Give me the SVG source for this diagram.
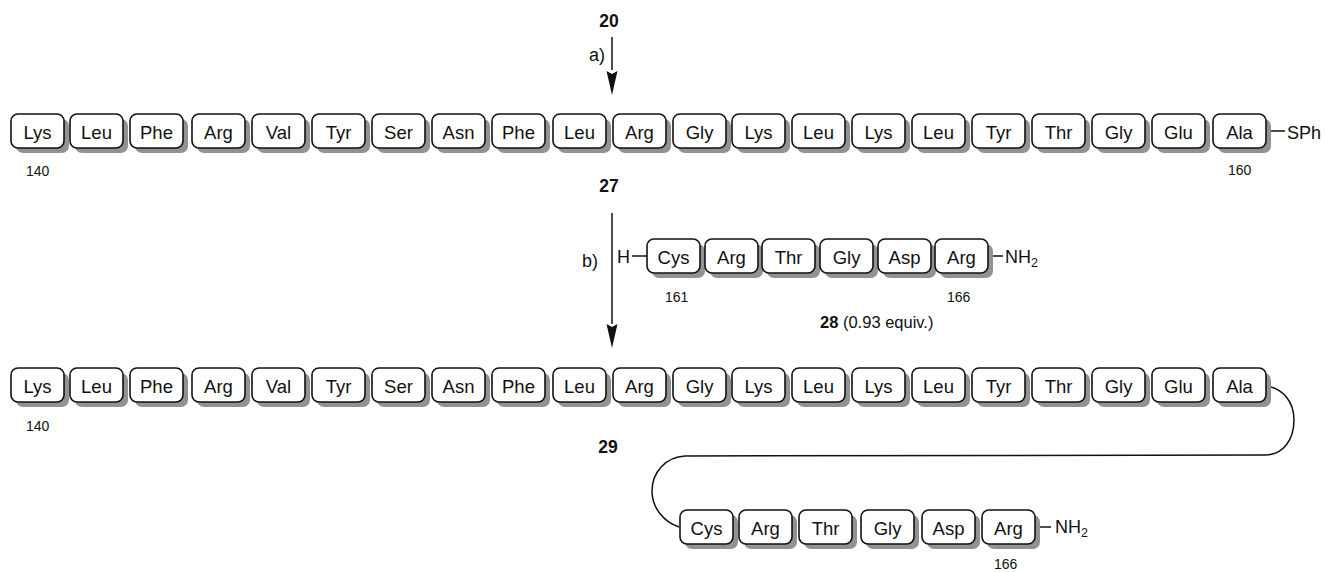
<svg xmlns="http://www.w3.org/2000/svg" xmlns:xlink="http://www.w3.org/1999/xlink" width="1325" height="572" viewBox="0 0 1325 572">
<style>
text{font-family:"Liberation Sans",Arial,sans-serif;fill:#111}
.aa{font-size:18.5px;text-anchor:middle}
.num{font-size:14px}
.lbl{font-size:18px}
.bold{font-weight:bold;font-size:17.5px;text-anchor:middle}
.sm{font-size:16.5px}
.ln{stroke:#111;stroke-width:1.5;fill:none}
</style>
<defs>
<g id="box">
<rect x="5" y="5" width="53" height="34" rx="7" fill="#929292"/>
<rect x="0" y="0" width="53" height="34" rx="7" fill="#fff" stroke="#111" stroke-width="1.6"/>
</g>
</defs>
<rect width="1325" height="572" fill="#fff"/>

<g id="connectors">
<line class="ln" x1="612" y1="37" x2="612" y2="70"/>
<path d="M606.5,71 L612,74 L617.5,71 L612,95 Z" fill="#111"/>
<line class="ln" x1="612" y1="213" x2="612" y2="324"/>
<path d="M606.5,324 L612,327 L617.5,324 L612,348 Z" fill="#111"/>
<line class="ln" x1="1271" y1="131" x2="1285" y2="131"/>
<line class="ln" x1="632" y1="256" x2="647" y2="256"/>
<line class="ln" x1="989" y1="256" x2="1003" y2="256"/>
<line class="ln" x1="1036" y1="527" x2="1051" y2="527"/>
<path class="ln" d="M1266,386 C1283,388 1294,402 1294,420 C1294,440 1283,455 1265,455 L685,456 C666,457 652,472 652,491 C652,508 664,522 679,527"/>
</g>

<g id="labels">
<text class="bold" x="609" y="27">20</text>
<text class="lbl" x="589" y="61">a)</text>
<text class="bold" x="609" y="192">27</text>
<text class="lbl" x="582" y="267">b)</text>
<text class="bold" x="608" y="453">29</text>
<text class="lbl" x="1287" y="139">SPh</text>
<text class="num" x="26" y="176">140</text>
<text class="num" x="1228" y="175">160</text>
<text class="num" x="26" y="431">140</text>
<text class="lbl" x="617" y="263">H</text>
<text class="lbl" x="1005" y="263">NH<tspan font-size="12.5px" dy="4">2</tspan></text>
<text class="num" x="665" y="302">161</text>
<text class="num" x="947" y="302">166</text>
<text class="sm" x="820" y="328"><tspan font-weight="bold">28</tspan> (0.93 equiv.)</text>
<text class="lbl" x="1055" y="533">NH<tspan font-size="12.5px" dy="4">2</tspan></text>
<text class="num" x="994" y="569">166</text>
</g>

<g id="chain27">
<g id="c27-1" transform="translate(11,114)"><use xlink:href="#box"/><text class="aa" x="26.5" y="24.5">Lys</text></g>
<g id="c27-2" transform="translate(70,114)"><use xlink:href="#box"/><text class="aa" x="26.5" y="24.5">Leu</text></g>
<g id="c27-3" transform="translate(130,114)"><use xlink:href="#box"/><text class="aa" x="26.5" y="24.5">Phe</text></g>
<g id="c27-4" transform="translate(192,114)"><use xlink:href="#box"/><text class="aa" x="26.5" y="24.5">Arg</text></g>
<g id="c27-5" transform="translate(252,114)"><use xlink:href="#box"/><text class="aa" x="26.5" y="24.5">Val</text></g>
<g id="c27-6" transform="translate(312,114)"><use xlink:href="#box"/><text class="aa" x="26.5" y="24.5">Tyr</text></g>
<g id="c27-7" transform="translate(372,114)"><use xlink:href="#box"/><text class="aa" x="26.5" y="24.5">Ser</text></g>
<g id="c27-8" transform="translate(432,114)"><use xlink:href="#box"/><text class="aa" x="26.5" y="24.5">Asn</text></g>
<g id="c27-9" transform="translate(492,114)"><use xlink:href="#box"/><text class="aa" x="26.5" y="24.5">Phe</text></g>
<g id="c27-10" transform="translate(553,114)"><use xlink:href="#box"/><text class="aa" x="26.5" y="24.5">Leu</text></g>
<g id="c27-11" transform="translate(613,114)"><use xlink:href="#box"/><text class="aa" x="26.5" y="24.5">Arg</text></g>
<g id="c27-12" transform="translate(673,114)"><use xlink:href="#box"/><text class="aa" x="26.5" y="24.5">Gly</text></g>
<g id="c27-13" transform="translate(732,114)"><use xlink:href="#box"/><text class="aa" x="26.5" y="24.5">Lys</text></g>
<g id="c27-14" transform="translate(792,114)"><use xlink:href="#box"/><text class="aa" x="26.5" y="24.5">Leu</text></g>
<g id="c27-15" transform="translate(852,114)"><use xlink:href="#box"/><text class="aa" x="26.5" y="24.5">Lys</text></g>
<g id="c27-16" transform="translate(912,114)"><use xlink:href="#box"/><text class="aa" x="26.5" y="24.5">Leu</text></g>
<g id="c27-17" transform="translate(972,114)"><use xlink:href="#box"/><text class="aa" x="26.5" y="24.5">Tyr</text></g>
<g id="c27-18" transform="translate(1032,114)"><use xlink:href="#box"/><text class="aa" x="26.5" y="24.5">Thr</text></g>
<g id="c27-19" transform="translate(1092,114)"><use xlink:href="#box"/><text class="aa" x="26.5" y="24.5">Gly</text></g>
<g id="c27-20" transform="translate(1152,114)"><use xlink:href="#box"/><text class="aa" x="26.5" y="24.5">Glu</text></g>
<g id="c27-21" transform="translate(1213,114)"><use xlink:href="#box"/><text class="aa" x="26.5" y="24.5">Ala</text></g>
</g>

<g id="chain28">
<g id="c28-1" transform="translate(647,239)"><use xlink:href="#box"/><text class="aa" x="26.5" y="24.5">Cys</text></g>
<g id="c28-2" transform="translate(705,239)"><use xlink:href="#box"/><text class="aa" x="26.5" y="24.5">Arg</text></g>
<g id="c28-3" transform="translate(762,239)"><use xlink:href="#box"/><text class="aa" x="26.5" y="24.5">Thr</text></g>
<g id="c28-4" transform="translate(820,239)"><use xlink:href="#box"/><text class="aa" x="26.5" y="24.5">Gly</text></g>
<g id="c28-5" transform="translate(878,239)"><use xlink:href="#box"/><text class="aa" x="26.5" y="24.5">Asp</text></g>
<g id="c28-6" transform="translate(935,239)"><use xlink:href="#box"/><text class="aa" x="26.5" y="24.5">Arg</text></g>
</g>

<g id="chain29">
<g id="c29-1" transform="translate(11,368)"><use xlink:href="#box"/><text class="aa" x="26.5" y="24.5">Lys</text></g>
<g id="c29-2" transform="translate(70,368)"><use xlink:href="#box"/><text class="aa" x="26.5" y="24.5">Leu</text></g>
<g id="c29-3" transform="translate(130,368)"><use xlink:href="#box"/><text class="aa" x="26.5" y="24.5">Phe</text></g>
<g id="c29-4" transform="translate(192,368)"><use xlink:href="#box"/><text class="aa" x="26.5" y="24.5">Arg</text></g>
<g id="c29-5" transform="translate(252,368)"><use xlink:href="#box"/><text class="aa" x="26.5" y="24.5">Val</text></g>
<g id="c29-6" transform="translate(312,368)"><use xlink:href="#box"/><text class="aa" x="26.5" y="24.5">Tyr</text></g>
<g id="c29-7" transform="translate(372,368)"><use xlink:href="#box"/><text class="aa" x="26.5" y="24.5">Ser</text></g>
<g id="c29-8" transform="translate(432,368)"><use xlink:href="#box"/><text class="aa" x="26.5" y="24.5">Asn</text></g>
<g id="c29-9" transform="translate(492,368)"><use xlink:href="#box"/><text class="aa" x="26.5" y="24.5">Phe</text></g>
<g id="c29-10" transform="translate(553,368)"><use xlink:href="#box"/><text class="aa" x="26.5" y="24.5">Leu</text></g>
<g id="c29-11" transform="translate(613,368)"><use xlink:href="#box"/><text class="aa" x="26.5" y="24.5">Arg</text></g>
<g id="c29-12" transform="translate(673,368)"><use xlink:href="#box"/><text class="aa" x="26.5" y="24.5">Gly</text></g>
<g id="c29-13" transform="translate(732,368)"><use xlink:href="#box"/><text class="aa" x="26.5" y="24.5">Lys</text></g>
<g id="c29-14" transform="translate(792,368)"><use xlink:href="#box"/><text class="aa" x="26.5" y="24.5">Leu</text></g>
<g id="c29-15" transform="translate(852,368)"><use xlink:href="#box"/><text class="aa" x="26.5" y="24.5">Lys</text></g>
<g id="c29-16" transform="translate(912,368)"><use xlink:href="#box"/><text class="aa" x="26.5" y="24.5">Leu</text></g>
<g id="c29-17" transform="translate(972,368)"><use xlink:href="#box"/><text class="aa" x="26.5" y="24.5">Tyr</text></g>
<g id="c29-18" transform="translate(1032,368)"><use xlink:href="#box"/><text class="aa" x="26.5" y="24.5">Thr</text></g>
<g id="c29-19" transform="translate(1092,368)"><use xlink:href="#box"/><text class="aa" x="26.5" y="24.5">Gly</text></g>
<g id="c29-20" transform="translate(1152,368)"><use xlink:href="#box"/><text class="aa" x="26.5" y="24.5">Glu</text></g>
<g id="c29-21" transform="translate(1213,368)"><use xlink:href="#box"/><text class="aa" x="26.5" y="24.5">Ala</text></g>
<g id="c29-22" transform="translate(680,510)"><use xlink:href="#box"/><text class="aa" x="26.5" y="24.5">Cys</text></g>
<g id="c29-23" transform="translate(739,510)"><use xlink:href="#box"/><text class="aa" x="26.5" y="24.5">Arg</text></g>
<g id="c29-24" transform="translate(799,510)"><use xlink:href="#box"/><text class="aa" x="26.5" y="24.5">Thr</text></g>
<g id="c29-25" transform="translate(861,510)"><use xlink:href="#box"/><text class="aa" x="26.5" y="24.5">Gly</text></g>
<g id="c29-26" transform="translate(922,510)"><use xlink:href="#box"/><text class="aa" x="26.5" y="24.5">Asp</text></g>
<g id="c29-27" transform="translate(982,510)"><use xlink:href="#box"/><text class="aa" x="26.5" y="24.5">Arg</text></g>
</g>
</svg>
